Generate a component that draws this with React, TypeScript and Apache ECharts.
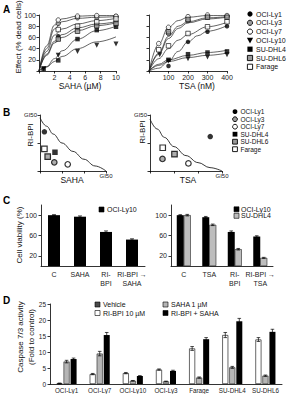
import React, { useEffect, useRef } from 'react';
import * as echarts from 'echarts';

const FONT = '"Liberation Sans", Arial, sans-serif';

// ---------- Panel A: dose response (SAHA, µM) ----------
const sahaLy1Pts = [[2.5, 62], [5, 77], [7.5, 84], [10, 89]];
const sahaLy3Pts = [[2.5, 85], [5, 95], [7.5, 96], [10, 97]];
const sahaLy7Pts = [[2.5, 91], [5, 98], [7.5, 99], [10, 98]];
const sahaLy10Pts = [[0.6, 4], [2.5, 28], [5, 35], [7.5, 46], [10, 48]];
const sahaDhl4Pts = [[0.6, 4], [2.5, 19], [5, 57], [7.5, 73], [10, 79]];
const sahaDhl6Pts = [[2.5, 57], [5, 71], [7.5, 81], [10, 85]];
const sahaFaragePts = [[2.5, 74], [5, 80], [7.5, 88], [10, 93]];

const sahaLy1Fit = [[0, 0], [1, 30], [2, 53], [3, 65], [5, 77], [7.5, 84], [10, 88]];
const sahaLy3Fit = [[0, 0], [1, 40], [2, 75], [3, 88], [5, 94], [7.5, 96], [10, 97]];
const sahaLy7Fit = [[0, 0], [1, 45], [2, 82], [3, 93], [5, 98], [7.5, 99], [10, 99]];
const sahaLy10Fit = [[0, 0], [1, 7], [2, 17], [3, 26], [5, 40], [7.5, 52], [10, 61]];
const sahaDhl4Fit = [[0, 0], [1, 8], [2, 22], [3, 36], [5, 57], [7.5, 72], [10, 80]];
const sahaDhl6Fit = [[0, 0], [1, 28], [2, 50], [3, 60], [5, 72], [7.5, 81], [10, 86]];
const sahaFarageFit = [[0, 0], [1, 35], [2, 64], [3, 75], [5, 84], [7.5, 90], [10, 94]];

// ---------- Panel A: dose response (TSA, nM) ----------
const tsaLy1Pts = [[100, 9], [200, 52], [300, 70], [400, 80]];
const tsaLy3Pts = [[100, 67], [200, 90], [300, 97], [400, 97]];
const tsaLy7Pts = [[50, 49], [100, 78], [200, 97], [300, 100], [400, 99]];
const tsaLy10Pts = [[55, 29], [100, 18], [200, 22], [300, 25], [400, 29]];
const tsaDhl4Pts = [[100, 20], [200, 30], [300, 33], [400, 35]];
const tsaDhl6Pts = [[100, 70], [200, 92], [300, 96], [400, 96]];
const tsaFaragePts = [[50, 38], [100, 45], [200, 67], [300, 79], [400, 88]];

const tsaLy1Fit = [[0, 0], [50, 5], [100, 17], [150, 35], [200, 52], [250, 63], [300, 71], [400, 81]];
const tsaLy3Fit = [[0, 0], [50, 32], [100, 62], [150, 80], [200, 88], [300, 95], [400, 97]];
const tsaLy7Fit = [[0, 0], [50, 48], [100, 78], [150, 90], [200, 96], [300, 99], [400, 99]];
const tsaLy10Fit = [[0, 0], [50, 10], [100, 17], [200, 24], [300, 28], [400, 32]];
const tsaDhl4Fit = [[0, 0], [50, 12], [100, 20], [200, 28], [300, 33], [400, 37]];
const tsaDhl6Fit = [[0, 0], [50, 30], [100, 58], [150, 76], [200, 86], [300, 93], [400, 96]];
const tsaFarageFit = [[0, 0], [50, 22], [100, 40], [150, 55], [200, 65], [300, 79], [400, 87]];

const sahaTicks = [2, 4, 6, 8, 10];
const tsaTicks = [100, 200, 300, 400];
const effectTicks = [20, 40, 60, 80, 100];

// ---------- Panel B: isobolograms (fractions of GI50, axis 0..3 / 0..2) ----------
const bSahaLy1 = [[0.2, 1.4]];
const bSahaLy3 = [[0.65, 0.31]];
const bSahaLy7 = [[1.26, 0.24]];
const bSahaDhl4 = [[0.68, 0.67]];
const bSahaDhl6 = [[0.35, 0.51]];
const bSahaFarage = [[0.2, 0.79]];
const bTsaLy1 = [[2.51, 1.23]];
const bTsaLy3 = [[0.52, 0.43]];
const bTsaLy7 = [[1.6, 0.27]];
const bTsaDhl6 = [[1.02, 0.6]];
const bTsaFarage = [[0.53, 0.83]];
const bSahaIsobole = [[0, 1.9], [0.3, 1.6], [0.6, 1.32], [1, 1.0], [1.5, 0.7], [2, 0.42], [2.5, 0.18], [3, 0]];
const bTsaIsobole = [[0, 1.85], [0.3, 1.5], [0.6, 1.2], [1, 0.87], [1.5, 0.55], [2, 0.3], [2.5, 0.12], [3, 0]];
const bTickLabel = 'GI50';

// ---------- Panel C: cell viability ----------
const cCatsSaha = ['C', 'SAHA', 'RI-\nBPI', 'RI-BPI →\nSAHA'];
const cCatsTsa = ['C', 'TSA', 'RI-\nBPI', 'RI-BPI →\nTSA'];
const cLy10Saha = [100, 97, 67, 52];
const cLy10SahaErr = [1, 1.5, 2, 1.5];
const cLy10Tsa = [100, 96, 67, 58];
const cLy10TsaErr = [1, 1.5, 2, 1.5];
const cDhl4Tsa = [100, 81, 33, 16];
const cDhl4TsaErr = [1.5, 1.5, 1.5, 1];
const cTicks = [20, 60, 100];

// ---------- Panel D: caspase 7/3 activity ----------
const dCats = ['OCI-Ly1', 'OCI-Ly7', 'OCI-Ly10', 'OCI-Ly3', 'Farage', 'SU-DHL4', 'SU-DHL6'];
const dRiBpi = [0.2, 3.1, 3.4, 4.5, 11.1, 15.3, 13.9];
const dRiBpiErr = [0.1, 0.2, 0.2, 0.2, 0.6, 0.8, 0.6];
const dSaha = [7.0, 9.5, 1.0, 0.8, 2.0, 5.2, 2.6];
const dSahaErr = [0.4, 0.7, 0.1, 0.1, 0.2, 0.3, 0.2];
const dCombo = [7.8, 15.3, 2.5, 4.1, 14.0, 19.6, 16.3];
const dComboErr = [0.3, 0.8, 0.1, 0.2, 0.5, 0.9, 0.8];

// styles per cell line
const lineStyleMap: Record<string, any> = {
  'OCI-Ly1': { symbol: 'circle', fill: '#000', rot: 0 },
  'OCI-Ly3': { symbol: 'circle', fill: '#9a9a9a', rot: 0 },
  'OCI-Ly7': { symbol: 'circle', fill: '#fff', rot: 0 },
  'OCI-Ly10': { symbol: 'triangle', fill: '#000', rot: 180 },
  'SU-DHL4': { symbol: 'rect', fill: '#000', rot: 0 },
  'SU-DHL6': { symbol: 'rect', fill: '#9a9a9a', rot: 0 },
  'Farage': { symbol: 'rect', fill: '#fff', rot: 0 },
};

const axLine = { lineStyle: { color: '#000', width: 0.8 } };
const axTick = { length: 2.5, lineStyle: { color: '#000', width: 0.8 } };
const lab = (extra: any = {}) => ({ fontSize: 7, fontFamily: FONT, color: '#222', margin: 3, ...extra });

function scatter(name: string, data: number[][], xi: number, size: number, bw: number) {
  const s = lineStyleMap[name];
  return {
    type: 'scatter', name, xAxisIndex: xi, yAxisIndex: xi, data,
    symbol: s.symbol, symbolRotate: s.rot, symbolSize: size, z: 5,
    itemStyle: { color: s.fill, borderColor: '#000', borderWidth: s.fill === '#000' ? 0 : bw },
  };
}
function curve(data: number[][], xi: number, width = 0.7) {
  return {
    type: 'line', xAxisIndex: xi, yAxisIndex: xi, data, smooth: 0.4, smoothMonotone: 'x',
    showSymbol: false, symbol: 'none', silent: true, z: 2,
    lineStyle: { color: '#222', width },
  };
}
function errSeries(xi: number, vals: number[], errs: number[], offset: number, cap: number) {
  return {
    type: 'custom', xAxisIndex: xi, yAxisIndex: xi, z: 6, silent: true,
    data: vals.map((v, i) => [i, v, errs[i]]),
    encode: { x: 0, y: 1 },
    renderItem: (_p: any, api: any) => {
      const i = api.value(0), v = api.value(1), e = api.value(2);
      const t = api.coord([i, v + e]);
      const b = api.coord([i, v - e]);
      const x = t[0] + offset;
      const st = { stroke: '#000', lineWidth: 0.7 };
      return {
        type: 'group', children: [
          { type: 'line', shape: { x1: x, y1: t[1], x2: x, y2: b[1] }, style: st },
          { type: 'line', shape: { x1: x - cap, y1: t[1], x2: x + cap, y2: t[1] }, style: st },
          { type: 'line', shape: { x1: x - cap, y1: b[1], x2: x + cap, y2: b[1] }, style: st },
        ],
      };
    },
  };
}

function txt(text: string, x: number, y: number, size: number, opts: any = {}) {
  return {
    type: 'text', x, y, rotation: opts.rot || 0, z: 100,
    style: {
      text, fontSize: size, fontFamily: FONT, fontWeight: opts.bold ? 'bold' : 'normal',
      fill: opts.color || '#111', align: opts.align || 'center', verticalAlign: 'middle',
    },
  };
}
function legendIcon(name: string, cx: number, cy: number, r: number) {
  const s = lineStyleMap[name];
  const style = { fill: s.fill, stroke: '#000', lineWidth: s.fill === '#000' ? 0 : 0.9 };
  if (s.symbol === 'circle') return { type: 'circle', shape: { cx, cy, r }, style, z: 100 };
  if (s.symbol === 'rect') return { type: 'rect', shape: { x: cx - r, y: cy - r, width: 2 * r, height: 2 * r }, style, z: 100 };
  return { type: 'polygon', shape: { points: [[cx - r - 0.5, cy - r], [cx + r + 0.5, cy - r], [cx, cy + r + 0.5]] }, style, z: 100 };
}
function rectIcon(x: number, y: number, fill: string) {
  return { type: 'rect', shape: { x, y, width: 5, height: 5 }, style: { fill, stroke: '#000', lineWidth: 0.6 }, z: 100 };
}

export default function App() {
  const ref = useRef<HTMLDivElement>(null);
  useEffect(() => {
    if (!ref.current) return;
    const chart = echarts.init(ref.current, undefined, { renderer: 'svg' });

    const namesA = ['OCI-Ly1', 'OCI-Ly3', 'OCI-Ly7', 'OCI-Ly10', 'SU-DHL4', 'SU-DHL6', 'Farage'];
    const namesB = ['OCI-Ly1', 'OCI-Ly3', 'OCI-Ly7', 'SU-DHL4', 'SU-DHL6', 'Farage'];

    const graphic: any[] = [
      txt('A', 3, 9, 10, { bold: true, align: 'left', color: '#000' }),
      txt('B', 3, 112, 10, { bold: true, align: 'left', color: '#000' }),
      txt('C', 3, 200, 10, { bold: true, align: 'left', color: '#000' }),
      txt('D', 3, 300, 10, { bold: true, align: 'left', color: '#000' }),
      txt('Effect (% dead cells)', 18, 37, 8, { rot: Math.PI / 2 }),
      txt('SAHA (µM)', 80, 86, 8.5),
      txt('TSA (nM)', 197, 86, 8.5),
      txt('RI-BPI', 30, 135, 8, { rot: Math.PI / 2 }),
      txt('RI-BPI', 142, 132, 8, { rot: Math.PI / 2 }),
      txt('SAHA', 72, 180, 8.5),
      txt('TSA', 188, 180, 8.5),
      txt('Cell viability (%)', 19, 235, 8, { rot: Math.PI / 2 }),
      txt('Caspase 7/3 activity', 20, 337, 8, { rot: Math.PI / 2 }),
      txt('(Fold to control)', 31, 337, 8, { rot: Math.PI / 2 }),
    ];
    namesA.forEach((n, i) => {
      const y = 14 + i * 8.8;
      graphic.push(legendIcon(n, 250, y, 2.6));
      graphic.push(txt(n, 256, y, 7, { align: 'left' }));
    });
    namesB.forEach((n, i) => {
      const y = 111.7 + i * 7.5;
      graphic.push(legendIcon(n, 235, y, 2.4));
      graphic.push(txt(n, 240.5, y, 6.5, { align: 'left' }));
    });
    graphic.push(rectIcon(99, 207, '#000'), txt('OCI-Ly10', 107, 209.7, 7, { align: 'left' }));
    graphic.push(rectIcon(234, 206.8, '#000'), txt('OCI-Ly10', 241, 209.3, 7, { align: 'left' }));
    graphic.push(rectIcon(234, 213.3, '#bdbdbd'), txt('SU-DHL4', 241, 215.8, 7, { align: 'left' }));
    graphic.push(rectIcon(95, 302, '#4a4a4a'), txt('Vehicle', 103, 304.5, 7, { align: 'left' }));
    graphic.push(rectIcon(95, 310.5, '#fff'), txt('RI-BPI 10 µM', 103, 313, 7, { align: 'left' }));
    graphic.push(rectIcon(163, 302, '#b5b5b5'), txt('SAHA 1 µM', 171, 304.5, 7, { align: 'left' }));
    graphic.push(rectIcon(163, 310.5, '#000'), txt('RI-BPI + SAHA', 171, 313, 7, { align: 'left' }));

    const grid = [
      { left: 39, top: 15, width: 77, height: 56 },
      { left: 149, top: 15, width: 78, height: 56 },
      { left: 40, top: 115, width: 66, height: 56 },
      { left: 150, top: 115, width: 72, height: 56 },
      { left: 41, top: 205, width: 104, height: 61 },
      { left: 171, top: 205, width: 102, height: 61 },
      { left: 50, top: 304, width: 232, height: 80 },
    ];

    const xAxis: any[] = [
      { type: 'value', gridIndex: 0, min: 0, max: 10, interval: 2, axisLine: axLine, axisTick: axTick, splitLine: { show: false }, axisLabel: lab({ customValues: sahaTicks }) },
      { type: 'value', gridIndex: 1, min: 0, max: 400, interval: 100, axisLine: axLine, axisTick: axTick, splitLine: { show: false }, axisLabel: lab({ customValues: tsaTicks }) },
      { type: 'value', gridIndex: 2, min: 0, max: 3, interval: 1, axisLine: axLine, axisTick: axTick, splitLine: { show: false }, axisLabel: lab({ fontSize: 6, margin: 2, customValues: [3], formatter: () => bTickLabel }) },
      { type: 'value', gridIndex: 3, min: 0, max: 3, interval: 1, axisLine: axLine, axisTick: axTick, splitLine: { show: false }, axisLabel: lab({ fontSize: 6, margin: 2, customValues: [3], formatter: () => bTickLabel }) },
      { type: 'category', gridIndex: 4, data: cCatsSaha, axisLine: axLine, axisTick: { show: false }, axisLabel: lab({ interval: 0, lineHeight: 9, margin: 4 }) },
      { type: 'category', gridIndex: 5, data: cCatsTsa, axisLine: axLine, axisTick: { show: false }, axisLabel: lab({ interval: 0, lineHeight: 9, margin: 4 }) },
      { type: 'category', gridIndex: 6, data: dCats, axisLine: axLine, axisTick: axTick, axisLabel: lab({ interval: 0, fontSize: 6.3, margin: 3 }) },
    ];
    const yAxis: any[] = [
      { type: 'value', gridIndex: 0, min: 0, max: 100, interval: 20, axisLine: { show: true, ...axLine }, axisTick: { show: true, ...axTick }, splitLine: { show: false }, axisLabel: lab({ customValues: effectTicks }) },
      { type: 'value', gridIndex: 1, min: 0, max: 100, interval: 20, axisLine: { show: true, ...axLine }, axisTick: { show: true, ...axTick }, splitLine: { show: false }, axisLabel: { show: false } },
      { type: 'value', gridIndex: 2, min: 0, max: 2, interval: 1, axisLine: { show: true, ...axLine }, axisTick: { show: true, ...axTick }, splitLine: { show: false }, axisLabel: lab({ fontSize: 6, margin: 3, customValues: [2], formatter: () => bTickLabel }) },
      { type: 'value', gridIndex: 3, min: 0, max: 2, interval: 1, axisLine: { show: true, ...axLine }, axisTick: { show: true, ...axTick }, splitLine: { show: false }, axisLabel: lab({ fontSize: 6, margin: 3, customValues: [2], formatter: () => bTickLabel }) },
      { type: 'value', gridIndex: 4, min: 0, max: 120, interval: 20, axisLine: { show: true, ...axLine }, axisTick: { show: true, ...axTick, customValues: cTicks }, splitLine: { show: false }, axisLabel: lab({ margin: 4, customValues: cTicks }) },
      { type: 'value', gridIndex: 5, min: 0, max: 120, interval: 20, axisLine: { show: true, ...axLine }, axisTick: { show: true, ...axTick, customValues: cTicks }, splitLine: { show: false }, axisLabel: lab({ margin: 4, customValues: cTicks }) },
      { type: 'value', gridIndex: 6, min: 0, max: 25, interval: 5, axisLine: { show: true, ...axLine }, axisTick: { show: true, ...axTick }, splitLine: { show: false }, axisLabel: lab({ fontSize: 6.5, margin: 4 }) },
    ];

    const series: any[] = [
      curve(sahaLy1Fit, 0), curve(sahaLy3Fit, 0), curve(sahaLy7Fit, 0), curve(sahaLy10Fit, 0),
      curve(sahaDhl4Fit, 0), curve(sahaDhl6Fit, 0), curve(sahaFarageFit, 0),
      scatter('OCI-Ly1', sahaLy1Pts, 0, 4.5, 0.8), scatter('OCI-Ly3', sahaLy3Pts, 0, 4.5, 0.8),
      scatter('OCI-Ly7', sahaLy7Pts, 0, 4.5, 0.8), scatter('OCI-Ly10', sahaLy10Pts, 0, 5, 0.8),
      scatter('SU-DHL4', sahaDhl4Pts, 0, 4.5, 0.8), scatter('SU-DHL6', sahaDhl6Pts, 0, 4.5, 0.8),
      scatter('Farage', sahaFaragePts, 0, 4.5, 0.8),

      curve(tsaLy1Fit, 1), curve(tsaLy3Fit, 1), curve(tsaLy7Fit, 1), curve(tsaLy10Fit, 1),
      curve(tsaDhl4Fit, 1), curve(tsaDhl6Fit, 1), curve(tsaFarageFit, 1),
      scatter('OCI-Ly1', tsaLy1Pts, 1, 4.5, 0.8), scatter('OCI-Ly3', tsaLy3Pts, 1, 4.5, 0.8),
      scatter('OCI-Ly7', tsaLy7Pts, 1, 4.5, 0.8), scatter('OCI-Ly10', tsaLy10Pts, 1, 5, 0.8),
      scatter('SU-DHL4', tsaDhl4Pts, 1, 4.5, 0.8), scatter('SU-DHL6', tsaDhl6Pts, 1, 4.5, 0.8),
      scatter('Farage', tsaFaragePts, 1, 4.5, 0.8),

      curve(bSahaIsobole, 2, 0.9),
      scatter('OCI-Ly1', bSahaLy1, 2, 5.5, 1.2), scatter('OCI-Ly3', bSahaLy3, 2, 5.5, 1.2),
      scatter('OCI-Ly7', bSahaLy7, 2, 5.5, 1.2), scatter('SU-DHL4', bSahaDhl4, 2, 5.5, 1.2),
      scatter('SU-DHL6', bSahaDhl6, 2, 5.5, 1.2), scatter('Farage', bSahaFarage, 2, 5.5, 1.2),

      curve(bTsaIsobole, 3, 0.9),
      scatter('OCI-Ly1', bTsaLy1, 3, 5.5, 1.2), scatter('OCI-Ly3', bTsaLy3, 3, 5.5, 1.2),
      scatter('OCI-Ly7', bTsaLy7, 3, 5.5, 1.2), scatter('SU-DHL6', bTsaDhl6, 3, 5.5, 1.2),
      scatter('Farage', bTsaFarage, 3, 5.5, 1.2),

      { type: 'bar', name: 'OCI-Ly10 (SAHA)', xAxisIndex: 4, yAxisIndex: 4, data: cLy10Saha, barWidth: 12, itemStyle: { color: '#000' } },
      errSeries(4, cLy10Saha, cLy10SahaErr, 0, 2),

      { type: 'bar', name: 'OCI-Ly10 (TSA)', xAxisIndex: 5, yAxisIndex: 5, data: cLy10Tsa, barWidth: 7, barGap: '0%', itemStyle: { color: '#000' } },
      { type: 'bar', name: 'SU-DHL4 (TSA)', xAxisIndex: 5, yAxisIndex: 5, data: cDhl4Tsa, barWidth: 7, barGap: '0%', itemStyle: { color: '#bdbdbd', borderColor: '#000', borderWidth: 0.5 } },
      errSeries(5, cLy10Tsa, cLy10TsaErr, -3.5, 1.8),
      errSeries(5, cDhl4Tsa, cDhl4TsaErr, 3.5, 1.8),

      { type: 'bar', name: 'RI-BPI 10 µM', xAxisIndex: 6, yAxisIndex: 6, data: dRiBpi, barWidth: 6, barGap: '17%', itemStyle: { color: '#fff', borderColor: '#000', borderWidth: 0.6 } },
      { type: 'bar', name: 'SAHA 1 µM', xAxisIndex: 6, yAxisIndex: 6, data: dSaha, barWidth: 6, barGap: '17%', itemStyle: { color: '#b5b5b5', borderColor: '#000', borderWidth: 0.5 } },
      { type: 'bar', name: 'RI-BPI + SAHA', xAxisIndex: 6, yAxisIndex: 6, data: dCombo, barWidth: 6, barGap: '17%', itemStyle: { color: '#000' } },
      errSeries(6, dRiBpi, dRiBpiErr, -7, 1.8),
      errSeries(6, dSaha, dSahaErr, 0, 1.8),
      errSeries(6, dCombo, dComboErr, 7, 1.8),
    ];

    chart.setOption({
      animation: false,
      backgroundColor: '#fff',
      grid, xAxis, yAxis, series, graphic,
    });
    return () => chart.dispose();
  }, []);
  return (
    <div
      ref={ref}
      style={{ position: 'fixed', left: 0, top: 0, width: 289, height: 394, background: '#fff' }}
    />
  );
}
